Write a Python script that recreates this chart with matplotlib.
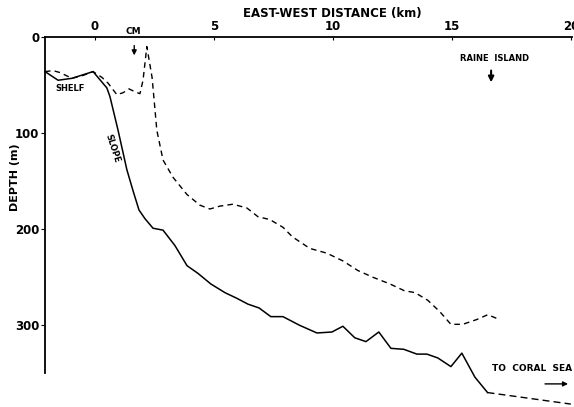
import matplotlib
matplotlib.use("Agg")
import matplotlib.pyplot as plt

# Solid profile (shelf & slope)
solid_x = [-2.1, -1.55, -0.97, -0.08, 0.5, 0.63, 0.97, 1.34, 1.6, 1.85, 2.1, 2.44, 2.86,
           3.36, 3.87, 4.33, 4.87, 5.46, 5.97, 6.43, 6.9, 7.39, 7.9, 8.6, 9.33, 9.96,
           10.42, 10.92, 11.39, 11.93, 12.44, 12.98, 13.53, 13.95, 14.41, 14.96, 15.42,
           15.97, 16.5]
solid_d = [36, 45, 43, 36, 53, 62, 97, 138, 160, 180, 189, 199, 201,
           217, 238, 246, 257, 266, 272, 278, 282, 291, 291, 300, 308, 307,
           301, 313, 317, 307, 324, 325, 330, 330, 334, 343, 329,
           354, 370]
# Dashed continuation toward Coral Sea
ext_x = [16.5, 20.0]
ext_d = [370, 382]

# Dashed profile
dash_x = [-2.1, -1.76, -1.47, -0.97, -0.5, -0.08, 0.29, 0.55, 0.92, 1.18, 1.43, 1.68, 1.89,
          2.02, 2.18, 2.4, 2.6, 2.86, 3.28, 3.87, 4.41, 4.83, 5.25, 5.8, 6.39, 6.85,
          7.35, 7.9, 8.3, 9.03, 9.75, 10.42, 11.05, 11.68, 12.4, 13.0, 13.45, 13.99,
          14.5, 14.96, 15.46, 16.05, 16.51, 17.0]
dash_d = [36, 35, 37, 43, 40, 36, 42, 48, 60, 58, 54, 57, 59,
          45, 10, 42, 97, 128, 146, 164, 175, 179, 176, 174, 178, 187,
          190, 198, 208, 220, 225, 233, 243, 250, 257, 264, 266, 274,
          286, 299, 299, 294, 289, 294]

xticks = [0, 5, 10, 15, 20]
yticks = [0, 100, 200, 300]

fig = plt.figure(figsize=(5.74, 4.07), dpi=100)
ax = fig.add_axes([45/574, 1/407, 527/574, (407-37-1)/407])
ax.set_xlim(-2.1, 20.05)
ax.set_ylim(384, 0)

ax.plot(solid_x, solid_d, color='black', lw=1.1, clip_on=False)
ax.plot(ext_x, ext_d, color='black', lw=1.0, ls=(0, (5, 3)), clip_on=False)
ax.plot(dash_x, dash_d, color='black', lw=1.0, ls=(0, (4, 3)), clip_on=False)

for s in ['right', 'bottom']:
    ax.spines[s].set_visible(False)
ax.spines['left'].set_bounds(0, 350)
ax.spines['left'].set_linewidth(1.3)
ax.spines['top'].set_linewidth(1.3)

ax.xaxis.tick_top()
ax.set_xticks(xticks)
ax.set_xticklabels([str(t) for t in xticks], fontsize=8.5, fontweight='bold')
ax.tick_params(axis='x', direction='in', length=2, pad=3)
ax.set_yticks(yticks)
ax.set_yticklabels([str(t) for t in yticks], fontsize=8.5, fontweight='bold')
ax.tick_params(axis='y', direction='out', length=3, pad=1)

fig.text(332/574, 1-13/407, 'EAST-WEST DISTANCE (km)', ha='center', va='center',
         fontsize=8.5, fontweight='bold')
fig.text(15/574, 1-177/407, 'DEPTH (m)', ha='center', va='center', rotation=90,
         fontsize=8, fontweight='bold')

ax.text(1.6, -1.5, 'CM', ha='center', va='bottom', fontsize=6.5, fontweight='bold', clip_on=False)
ax.annotate('', xy=(1.65, 22), xytext=(1.65, 6),
            arrowprops=dict(arrowstyle='-|>', color='black', lw=1.0, mutation_scale=7))
ax.text(16.8, 22, 'RAINE  ISLAND', ha='center', va='center', fontsize=6, fontweight='bold')
ax.annotate('', xy=(16.65, 50), xytext=(16.65, 32),
            arrowprops=dict(arrowstyle='-|>', color='black', lw=1.5, mutation_scale=8))
ax.text(-1.65, 54, 'SHELF', ha='left', va='center', fontsize=6, fontweight='bold')
ax.text(0.71, 116, 'SLOPE', ha='center', va='center', rotation=-72, fontsize=6,
        fontweight='bold')
ax.text(16.7, 345, 'TO  CORAL  SEA', ha='left', va='center', fontsize=6.5, fontweight='bold')
ax.annotate('', xy=(20.0, 361), xytext=(18.8, 361),
            arrowprops=dict(arrowstyle='-|>', color='black', lw=1.0, mutation_scale=7),
            annotation_clip=False)

fig.savefig('out.png', dpi=100)
